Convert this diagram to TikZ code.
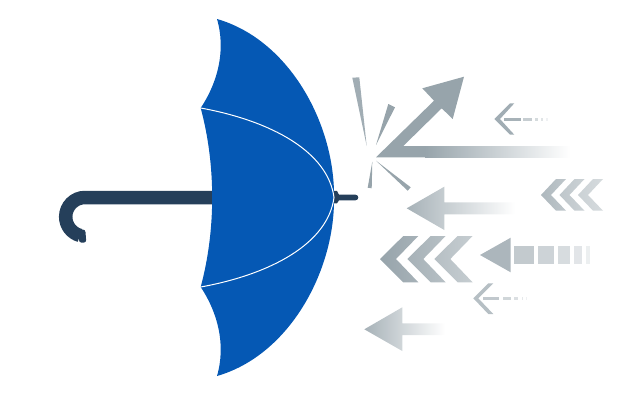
\documentclass[tikz,border=0pt]{standalone}
\definecolor{ublue}{HTML}{0558B4}
\definecolor{navy}{HTML}{253F5A}
\definecolor{g1}{HTML}{97A4AB}
\tikzset{handleline/.style={draw=navy,line width=13.5pt},rib/.style={draw=white,line width=1pt}}
\newcommand{\chev}[3]{\shade[left color=#2,right color=#3,draw=none] (#1,195) -- (#1+15,179) -- (#1+25,179) -- (#1+10,195) -- (#1+25,210.7) -- (#1+15,210.7) -- cycle;}
\begin{document}
\begin{tikzpicture}[x=1pt,y=-1pt]
\useasboundingbox (0,0) rectangle (642,400);
% handle
\draw[handleline] (215,197.5) -- (85,197.5) arc[start angle=-90,end angle=-255,radius=19.3];
\fill[navy,rounded corners=2.5pt] (79,229.5) -- (85.3,229.5) -- (86.3,242.6) -- (79,242.6) -- cycle;
\fill[navy] (333,190.7) -- (337,191) -- (339,194.7) -- (355.5,194.7) arc[start angle=-90,end angle=90,radius=2.8] -- (339,200.3) -- (337,203.3) -- (333,203.3) -- cycle;
% canopy
\fill[ublue] (217,19) .. controls (290,40) and (335,125) .. (334,197.5)
  .. controls (335,270) and (290,355) .. (217,376)
  .. controls (226,345) and (218,313) .. (200.7,287)
  .. controls (216,230) and (216,165) .. (200.7,108)
  .. controls (218,82) and (226,50) .. (217,19) -- cycle;
\draw[rib] (200.7,108) .. controls (272,121) and (328,152) .. (334,197.5)
  .. controls (328,243) and (272,274) .. (200.7,287);
% burst
\fill[g1!90] (352.3,77.7) -- (359.3,77.3) -- (366.7,146) -- cycle;
\fill[g1] (388.3,104) -- (395,107.3) -- (376,145) -- cycle;
\fill[g1] (372.3,161.7) -- (371.7,188.3) -- (367.7,187.7) -- cycle;
\fill[g1] (376,160.7) -- (410.7,187.3) -- (407.7,190.7) -- cycle;
\fill[g1] (376,157.3) -- (434,100.7) -- (422.3,88.3) -- (464,76.7) -- (452.7,119) -- (441.7,108.3) -- (403.3,146) -- (425.5,146) -- (425.5,157.3) -- cycle;
\shade[left color=g1,middle color=g1!35,right color=white,draw=none] (425,146) rectangle (570,157.3);
% small arrow top
\fill[g1!90] (494.3,119) -- (510,103.3) -- (514.3,103.3) -- (500,119) -- (514.3,134.7) -- (510,134.7) -- cycle;
\fill[g1!85] (504,117.6) rectangle (521,120.6);
\fill[g1!55] (523,117.6) rectangle (532,120.6);
\fill[g1!40] (535,117.6) rectangle (538,120.6);
\fill[g1!30] (541,117.6) rectangle (543,120.6);
\fill[g1!15] (546,117.6) rectangle (547.5,120.6);
% gradient arrow 2
\shade[left color=g1!85,middle color=g1!35,right color=white,draw=none] (406.7,208.3) -- (444.3,186.7) -- (444.3,202.3) -- (515,202.3) -- (515,214.3) -- (444.3,214.3) -- (444.3,230) -- cycle;
% top-right chevrons
\chev{541}{g1!78}{g1!62}
\chev{559.5}{g1!62}{g1!50}
\chev{578}{g1!50}{g1!40}
% big chevrons
\shade[left color=g1,right color=g1!85,draw=none] (380,259) -- (403.3,236) -- (418.3,236) -- (396,259) -- (418.3,282.3) -- (403.3,282.3) -- cycle;
\shade[left color=g1!85,right color=g1!70,draw=none] (407.3,259) -- (430.6,236) -- (445.6,236) -- (423.3,259) -- (445.6,282.3) -- (430.6,282.3) -- cycle;
\shade[left color=g1!70,right color=g1!55,draw=none] (434.3,259) -- (457.6,236) -- (472.6,236) -- (450.3,259) -- (472.6,282.3) -- (457.6,282.3) -- cycle;
% squares arrow
\fill[g1!80] (480,255) -- (510.7,237.7) -- (510.7,272.3) -- cycle;
\fill[g1!58] (514.3,245.7) rectangle (534,264.3);
\fill[g1!48] (537.7,245.7) rectangle (554,264.3);
\fill[g1!38] (557.7,245.7) rectangle (570,264.3);
\fill[g1!28] (574,245.7) rectangle (581.7,264.3);
\fill[g1!18] (585.7,245.7) rectangle (590,264.3);
% small arrow lower
\fill[g1!70] (473.3,298.3) -- (488.3,283.3) -- (493.3,283.3) -- (478.3,298.3) -- (493.3,314) -- (488.3,314) -- cycle;
\fill[g1!60] (482.7,297) rectangle (499.3,300);
\fill[g1!45] (502.7,297) rectangle (510.7,300);
\fill[g1!35] (514,297) rectangle (518.3,300);
\fill[g1!25] (521.7,297) rectangle (523.3,300);
\fill[g1!15] (525.7,297) rectangle (526.7,300);
% bottom arrow
\shade[left color=g1!85,middle color=g1!30,right color=white,draw=none] (364.3,329.3) -- (402.3,307.3) -- (402.3,323.3) -- (445,323.3) -- (445,335) -- (402.3,335) -- (402.3,351) -- cycle;
\end{tikzpicture}
\end{document}
